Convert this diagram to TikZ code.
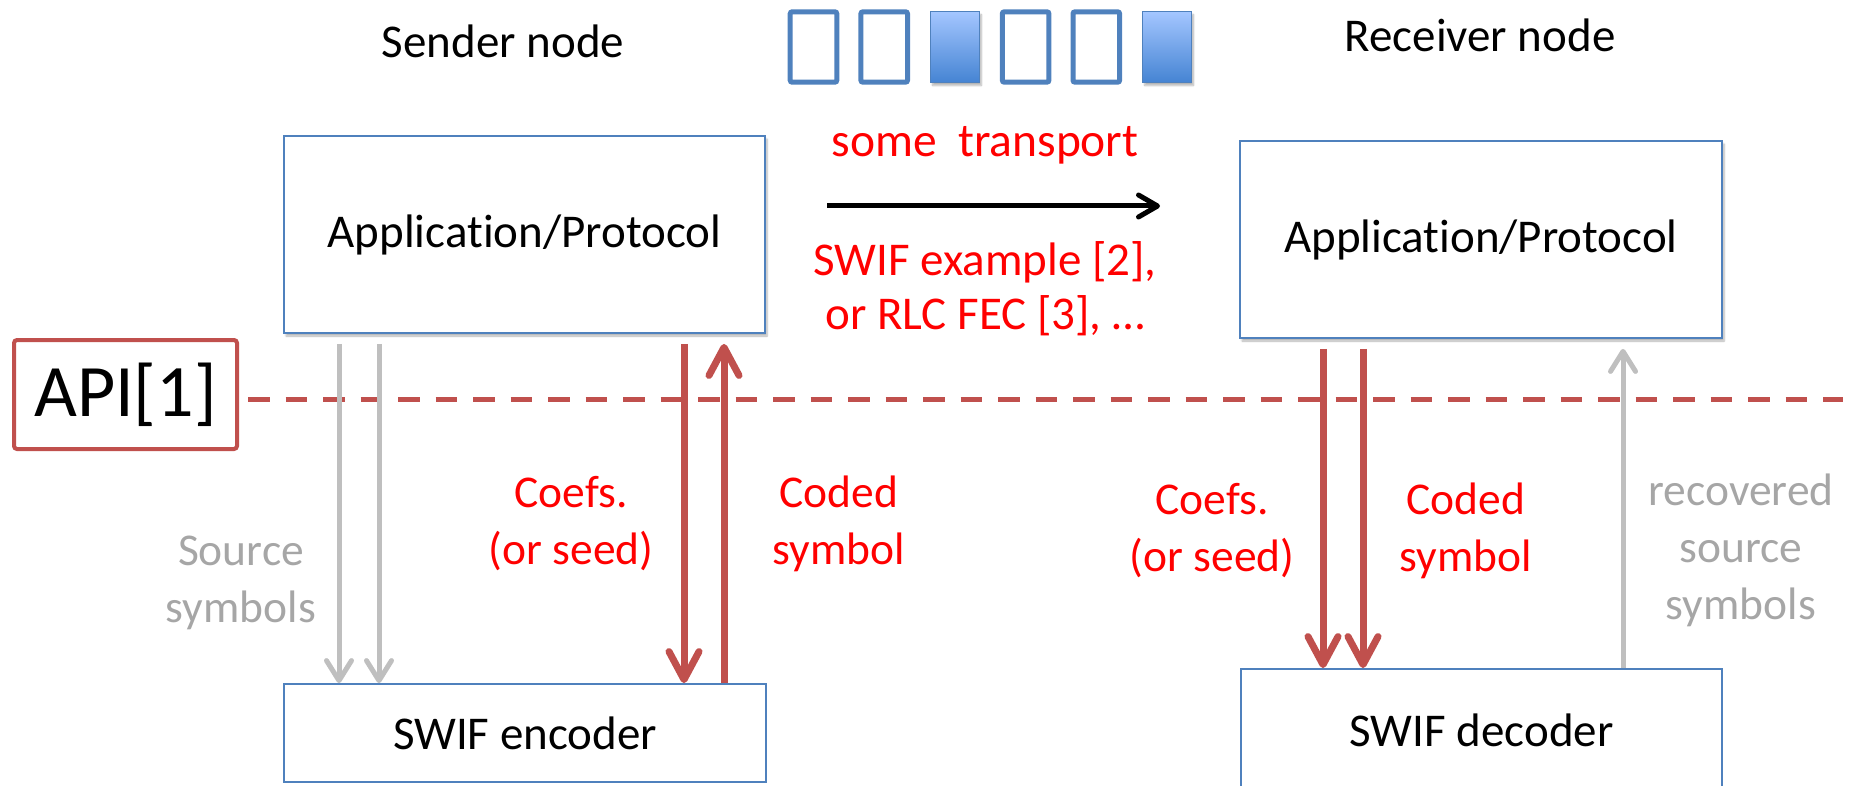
\documentclass[tikz,border=0pt]{standalone}
\usepackage{fontspec}
\setmainfont{Carlito}[Ligatures={NoCommon,NoRare}]
\usetikzlibrary{arrows.meta,shadows.blur}

\definecolor{boxblue}{HTML}{4F81BD}
\definecolor{apired}{HTML}{C0504D}
\definecolor{flowgray}{HTML}{BFBFBF}
\definecolor{labelgray}{HTML}{A6A6A6}
\definecolor{labelred}{HTML}{FF0000}
\definecolor{symtop}{HTML}{A4C6FF}
\definecolor{symbot}{HTML}{4584D3}

\tikzset{
  bigtext/.style={font=\fontsize{47}{54}\selectfont},
  labeltext/.style={font=\fontsize{45.5}{57}\selectfont, align=center},
  softshadow/.style={blur shadow={shadow xshift=2pt, shadow yshift=-3pt, shadow blur steps=6, shadow opacity=30}},
  layerbox/.style={draw=boxblue, line width=1.8pt, fill=white, inner sep=0pt, bigtext},
  symempty/.style={draw=boxblue, line width=5pt, rounded corners=2pt, fill=white,
                   minimum width=46.6pt, minimum height=70.4pt, inner sep=0pt},
  symfull/.style={draw=boxblue, line width=1.2pt, top color=symtop, bottom color=symbot,
                  minimum width=48.8pt, minimum height=70.8pt, inner sep=0pt, softshadow},
  grayflow/.style={draw=flowgray, line width=5pt, -{Straight Barb[length=20pt, width=25pt, round]}},
  redflow/.style={draw=apired, line width=7pt, -{Straight Barb[length=28pt, width=30pt, round]}},
  wireflow/.style={draw=black, line width=5pt, -{Straight Barb[length=19pt, width=22pt, round]}},
}

\begin{document}
\begin{tikzpicture}[x=1pt, y=-1pt]
\useasboundingbox (0,0) rectangle (1851,786);

% node titles
\node[bigtext] (sendtitle) at (503,41) {Sender node};
\node[bigtext] (recvtitle) at (1480,35) {Receiver node};

% symbols travelling on the wire
\foreach \i/\kind in {0/symempty,1/symempty,2/symfull,3/symempty,4/symempty,5/symfull}
  \node[\kind] (sym\i) at ({813.5+70.7*\i},47) {};

% layer boxes
\node[layerbox, softshadow, minimum width=481pt, minimum height=197pt] (sendapp) at (524.5,234.5) {Application/Protocol};
\node[layerbox, softshadow, minimum width=482pt, minimum height=197pt] (recvapp) at (1481,239.5) {Application/Protocol};
\node[layerbox, minimum width=482pt, minimum height=98pt] (enc) at (525,733) {SWIF encoder};
\node[layerbox, minimum width=481pt, minimum height=132pt, text depth=0pt] (dec) at (1481.5,735) {};
\node[bigtext] (dectext) at (1481.5,730) {SWIF decoder};

% API boundary
\node[draw=apired, line width=4pt, rounded corners=3pt, minimum width=223pt, minimum height=109pt,
      inner sep=0pt, font=\fontsize{74}{80}\selectfont] (api) at (125.5,394.5) {API[1]};
\coordinate (dashend) at (1843,399);
\draw[apired, line width=5pt, dash pattern=on 21.7pt off 15.8pt] ([xshift=9pt]api.east |- dashend) -- (dashend);

% transport between the nodes
\node[labeltext, text=labelred, font=\fontsize{47.5}{57}\selectfont] (transport) at (985,145) {some\ \ transport};
\coordinate (wirefrom) at (827,206);
\coordinate (wireto) at (1160,206);
\draw[wireflow] (wirefrom) -- (wireto);
\node[labeltext, text=labelred, font=\fontsize{47}{54}\selectfont] (examples) at (985,289) {SWIF example [2],\\or RLC FEC [3], \dots};

% x positions of the vertical flows
\coordinate (sx1) at (339,0);
\coordinate (sx2) at (379,0);
\coordinate (sx3) at (684,0);
\coordinate (sx4) at (724,0);
\coordinate (rx1) at (1323,0);
\coordinate (rx2) at (1363,0);
\coordinate (rx3) at (1623,0);

% sender side flows
\draw[grayflow] ([yshift=-10pt]sendapp.south -| sx1) -- (enc.north -| sx1);
\draw[grayflow] ([yshift=-10pt]sendapp.south -| sx2) -- (enc.north -| sx2);
\draw[redflow] ([yshift=-10pt]sendapp.south -| sx3) -- (enc.north -| sx3);
\draw[redflow] (enc.north -| sx4) -- ([yshift=-10pt]sendapp.south -| sx4);

% receiver side flows
\draw[redflow] ([yshift=-10pt]recvapp.south -| rx1) -- (dec.north -| rx1);
\draw[redflow] ([yshift=-10pt]recvapp.south -| rx2) -- (dec.north -| rx2);
\draw[grayflow] (dec.north -| rx3) -- ([yshift=-10pt]recvapp.south -| rx3);

% flow labels
\node[labeltext, text=labelgray] (srcsym) at (241,583) {Source\\symbols};
\node[labeltext, text=labelred] (enccoef) at (571,524) {Coefs.\\(or seed)};
\node[labeltext, text=labelred] (enccoded) at (839,524) {Coded\\symbol};
\node[labeltext, text=labelred] (deccoef) at (1212,531) {Coefs.\\(or seed)};
\node[labeltext, text=labelred] (deccoded) at (1466,531) {Coded\\symbol};
\node[labeltext, text=labelgray] (recsym) at (1741,550) {recovered\\source\\symbols};
\end{tikzpicture}
\end{document}
